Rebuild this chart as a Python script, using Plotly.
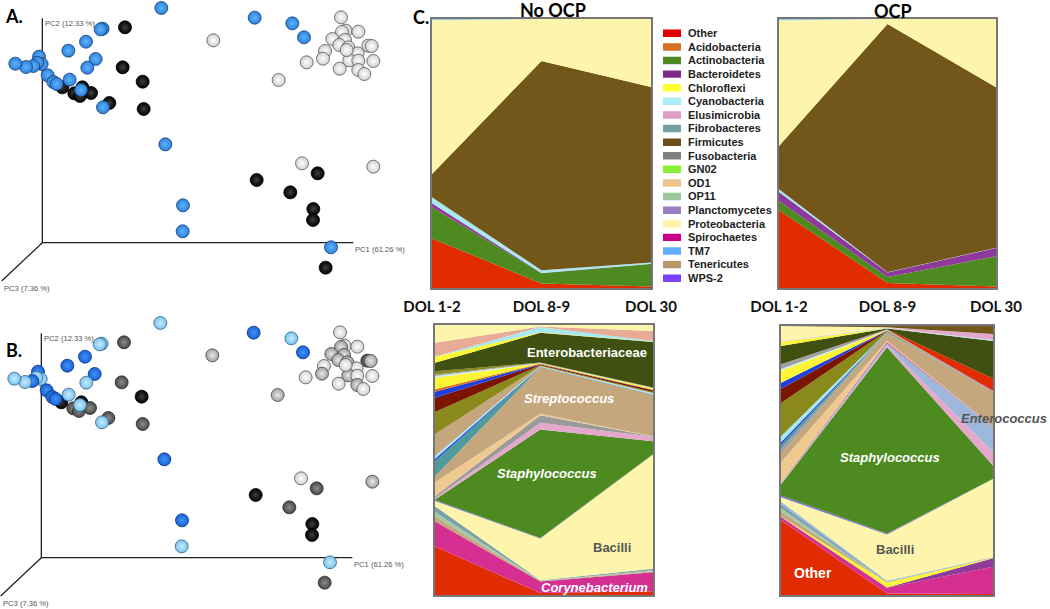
import plotly.graph_objects as go

W, H = 1050, 609

# ordination coordinates, shared with panel B
pc1 = [1023, 640, 1037, 1026, 1075, 997, 1035, 1018, 1045, 1105, 1115, 975, 969, 920, 1073,
       1120, 1048, 1075, 1019, 1075, 1093, 836, 906, 1120, 1040,
       375, 368, 428, 431, 247, 187, 223, 240, 273, 328, 770, 953, 871, 940, 939, 977,
       484, 764, 877, 912, 308, 302, 258, 205, 287, 262, 117, 125, 112, 100, 78, 46,
       143, 160, 170, 209, 243, 309, 496, 549, 548, 993]
pc2 = [52, 121, 92, 96, 95, 117, 120, 135, 142, 137, 138, 153, 176, 187, 160,
       183, 181, 182, 206, 210, 222, 240, 490, 500, 150,
       82, 202, 245, 327, 262, 262, 280, 288, 279, 309, 540, 520, 577, 627, 660, 803,
       24, 53, 70, 112, 86, 88, 125, 152, 177, 203, 170, 192, 188, 198, 201, 191,
       226, 246, 252, 239, 270, 322, 433, 616, 694, 742]
group_a = ["white"] * 25 + ["black"] * 16 + ["blue"] * 26
group_b = ["white", "lgrey", "white", "lgrey", "white", "lgrey", "lgrey", "lgrey", "lgrey", "grey",
           "lgrey", "white", "lgrey", "white", "white", "white", "lgrey", "white", "white", "lgrey",
           "white", "lgrey", "white", "lgrey", "white",
           "grey", "grey", "black", "grey", "black", "black", "grey", "grey", "grey", "grey",
           "black", "grey", "grey", "black", "black", "grey",
           "light", "blue", "light", "blue", "light", "light", "blue", "blue", "blue", "light",
           "blue", "light", "light", "blue", "light", "light", "blue", "blue", "blue", "light",
           "light", "light", "blue", "blue", "light", "light"]
axis_x = [127, 127, 1060]
axis_y = [55, 728, 728]
axis3_x = [127, 5]
axis3_y = [728, 843]

# outer colour, centre colour, rim colour
spheres = {
    "white": ("#d0d0d0", "#ffffff", "#555555"),
    "lgrey": ("#a0a0a0", "#e8e8e8", "#444444"),
    "grey": ("#484848", "#8c8c8c", "#2c2c2c"),
    "black": ("#000000", "#404040", "#000000"),
    "blue": ("#2f80d8", "#5cb4ff", "#173f78"),
    "light": ("#78c0f0", "#c8eefc", "#356585"),
}
spheres_b = dict(spheres, blue=("#1a60d8", "#3f94f6", "#0c3480"))

dol_labels = ["DOL 1-2", "DOL 8-9", "DOL 30"]
dol_x = [0, 1, 2]
dol_x_low_nocp = [0, 0.966, 2]

# phylum level, % per time point
top_taxa = ["Other", "Actinobacteria", "Bacteroidetes", "Cyanobacteria", "Firmicutes", "Proteobacteria", "TM7"]
top_colors = ["#e02c00", "#4d8a20", "#8e3a9c", "#a8e8f0", "#72561a", "#fdf5ac", "#a0d0e0"]
top_nocp_1 = [18.4, 11.6, 1.5, 2.2, 8.7, 57.1, 0.5]
top_nocp_8 = [1.7, 3.8, 0.1, 1.0, 77.8, 15.6, 0.0]
top_nocp_30 = [0.6, 8.3, 0.1, 0.5, 65.2, 25.3, 0.0]
top_ocp_1 = [28.9, 3.4, 3.4, 1.0, 16.1, 46.6, 0.6]
top_ocp_8 = [1.9, 2.2, 1.7, 0.1, 92.2, 1.9, 0.0]
top_ocp_30 = [0.6, 11.2, 3.1, 0.1, 59.6, 25.4, 0.0]

# genus level, No OCP
low_nocp_taxa = ["Other", "Corynebacterium", "Tenericutes", "OP11", "Fibrobacteres", "Bacilli", "WPS-2",
                 "Staphylococcus", "Elusimicrobia", "Fusobacteria", "OD1", "Streptococcus", "Teal", "Blue",
                 "Cyanobacteria", "Tan", "Olive", "Maroon", "TM7", "Acidobacteria", "Chloroflexi", "Pale cyan",
                 "Grey", "Olive 2", "Enterobacteriaceae", "Yellow", "Cyan", "Salmon", "Proteobacteria"]
low_nocp_colors = ["#e02c00", "#d52f92", "#c4a77d", "#a5c8a5", "#7aa0a8", "#fdf5ac", "#7c6fd6",
                   "#4d8a20", "#e5a8cc", "#9a9a9a", "#efca90", "#c4a77d", "#4f9a9c", "#2244e0",
                   "#a8e8f0", "#c4a77d", "#8a8a1c", "#7a1500", "#1f3fe0", "#d87020", "#fdf535", "#c8f0f0",
                   "#a0a0a0", "#8a8a1c", "#3f5010", "#fdf535", "#a8e8f0", "#e8ab95", "#fdf5ac"]
low_nocp_1 = [18.0, 9.3, 1.9, 1.5, 2.2, 1.9, 0.4, 0.2, 0.5, 0.7, 5.2, 2.2, 5.6, 0.9, 1.0, 8.0, 8.3,
              5.3, 2.2, 0.9, 4.3, 0.6, 0.6, 1.2, 3.1, 2.2, 0.1, 5.1, 6.6]
low_nocp_8 = [0.7, 4.3, 0.2, 0.1, 0.2, 15.6, 0.2, 40.4, 2.5, 2.8, 0.6, 17.3, 0.1, 0.1, 0.2, 0.1, 0.3,
              0.3, 0.1, 0.2, 0.1, 0.1, 0.1, 0.1, 11.1, 0.2, 2.0, 0.1, 0.6]
low_nocp_30 = [1.4, 7.0, 0.4, 0.4, 0.5, 42.4, 0.1, 4.9, 1.6, 0.1, 0.1, 15.3, 0.1, 0.1, 0.5, 0.1, 0.3,
               0.7, 0.1, 0.1, 0.5, 0.1, 0.1, 0.1, 16.9, 0.1, 0.3, 3.7, 2.2]

# genus level, OCP
low_ocp_taxa = ["Other", "Corynebacterium", "Bacteroidetes", "Chloroflexi", "Tenericutes", "OP11", "Fibrobacteres",
                "Planctomycetes", "Bacilli", "WPS-2", "Staphylococcus", "Elusimicrobia", "Enterococcus",
                "Spirochaetes", "OD1", "Streptococcus", "Grey", "Teal", "Blue", "Cyanobacteria", "Olive",
                "Maroon", "TM7", "Yellow", "Pale cyan", "Grey 2", "Lavender", "Red", "Enterobacteriaceae",
                "Yellow 2", "Cyan", "Salmon", "Proteobacteria", "Firmicutes"]
low_ocp_colors = ["#e02c00", "#d52f92", "#8e3a9c", "#fdf535", "#c4a77d", "#a5c8a5", "#7aa0a8",
                  "#9ab4dc", "#fdf5ac", "#7c6fd6", "#4d8a20", "#e5a8cc", "#9db8dc",
                  "#d52f92", "#efca90", "#c4a77d", "#a0a0a0", "#4f9a9c", "#2244e0", "#a8e8f0", "#8a8a1c",
                  "#7a1500", "#1f3fe0", "#fdf535", "#c8f0f0", "#a0a0a0", "#9a80d8", "#e02c00", "#3f5010",
                  "#fdf535", "#a8e8f0", "#e5a8cc", "#fdf5ac", "#72561a"]
low_ocp_1 = [27.9, 1.2, 0.1, 0.1, 1.9, 1.2, 1.5, 1.0, 1.6, 0.7, 4.1, 0.1, 0.3, 0.1, 7.8, 3.1, 1.9, 1.5,
             1.0, 2.2, 12.4, 5.4, 2.2, 4.5, 0.6, 1.8, 0.0, 0.0, 6.8, 1.5, 0.1, 0.2, 5.7, 0.0]
low_ocp_8 = [0.6, 2.1, 0.1, 1.9, 0.1, 0.1, 0.1, 0.3, 17.3, 0.4, 69.6, 0.6, 0.9, 0.4, 0.5, 2.9, 0.1, 0.1,
             0.1, 0.1, 0.3, 0.1, 0.1, 0.1, 0.1, 0.1, 0.1, 0.1, 0.3, 0.1, 0.1, 0.1, 0.1, 0.5]
low_ocp_30 = [0.4, 10.2, 3.1, 0.1, 0.1, 0.1, 0.1, 0.1, 29.1, 0.1, 5.0, 5.0, 9.3, 0.1, 0.1, 13.0, 0.0, 0.0,
              0.0, 0.0, 0.0, 0.0, 0.0, 0.0, 0.0, 0.0, 0.4, 4.6, 14.0, 0.0, 0.4, 2.2, 0.0, 3.0]

legend_taxa = ["Other", "Acidobacteria", "Actinobacteria", "Bacteroidetes", "Chloroflexi", "Cyanobacteria",
               "Elusimicrobia", "Fibrobacteres", "Firmicutes", "Fusobacteria", "GN02", "OD1", "OP11",
               "Planctomycetes", "Proteobacteria", "Spirochaetes", "TM7", "Tenericutes", "WPS-2"]
legend_colors = ["#e00000", "#d87020", "#4d8a20", "#7c2a8c", "#ffff33", "#a8eef4", "#e09cc8", "#75a0a0",
                 "#6e4e1a", "#808080", "#88f030", "#efc48c", "#9cc89c", "#9a80c0", "#fdf5a8", "#cc0088",
                 "#60b0ff", "#b89868", "#7a40ff"]


def dom_x(left, right):
    return [left / W, right / W]


def dom_y(top, bottom):
    return [1 - bottom / H, 1 - top / H]


def add_pcoa(fig, xa, ya, groups, styles):
    fig.add_trace(go.Scatter(
        x=axis_x, y=axis_y, mode="lines", line=dict(color="#222222", width=1.3),
        hoverinfo="skip", xaxis=xa, yaxis=ya))
    fig.add_trace(go.Scatter(
        x=axis3_x, y=axis3_y, mode="lines", line=dict(color="#222222", width=1.3),
        hoverinfo="skip", xaxis=xa, yaxis=ya))
    fig.add_trace(go.Scatter(
        x=pc1, y=pc2, mode="markers", xaxis=xa, yaxis=ya,
        marker=dict(
            size=13,
            color=[styles[g][0] for g in groups],
            gradient=dict(type="radial", color=[styles[g][1] for g in groups]),
            line=dict(width=0.8, color=[styles[g][2] for g in groups]),
        )))


def add_stack(fig, xa, ya, x, colors, taxa, v1, v8, v30):
    group = "stack_" + xa
    for name, color, a, b, c in zip(taxa, colors, v1, v8, v30):
        fig.add_trace(go.Scatter(
            x=x, y=[a, b, c], name=name, mode="none", stackgroup=group, groupnorm="percent",
            fillcolor=color, xaxis=xa, yaxis=ya))


def note(fig, px, py, text, size, color="#000000", bold=True, italic=False, family="Liberation Sans"):
    fig.add_annotation(
        x=px / W, y=1 - py / H, xref="paper", yref="paper", text=text, showarrow=False,
        xanchor="center", yanchor="middle",
        font=dict(size=size, color=color, family=family, weight=700 if bold else 400,
                  style="italic" if italic else "normal"))


fig = go.Figure()
add_pcoa(fig, "x", "y", group_a, spheres)
add_pcoa(fig, "x2", "y2", group_b, spheres_b)
add_stack(fig, "x3", "y3", dol_x, top_colors, top_taxa, top_nocp_1, top_nocp_8, top_nocp_30)
add_stack(fig, "x4", "y4", dol_x, top_colors, top_taxa, top_ocp_1, top_ocp_8, top_ocp_30)
add_stack(fig, "x5", "y5", dol_x_low_nocp, low_nocp_colors, low_nocp_taxa, low_nocp_1, low_nocp_8, low_nocp_30)
add_stack(fig, "x6", "y6", dol_x, low_ocp_colors, low_ocp_taxa, low_ocp_1, low_ocp_8, low_ocp_30)

fig.add_trace(go.Bar(
    x=[1] * len(legend_taxa), y=legend_taxa, orientation="h", width=0.55,
    marker=dict(color=legend_colors, line=dict(width=0)), xaxis="x7", yaxis="y7"))

hidden = dict(visible=False, fixedrange=True, automargin=False)
frame = dict(showline=True, mirror=True, linecolor="#777777", linewidth=1.5, showgrid=False,
             zeroline=False, ticks="", fixedrange=True, automargin=False)
dol_ticks = dict(tickvals=dol_x, ticktext=dol_labels, ticklabelstandoff=4,
                 tickfont=dict(size=15, color="#111111", family="Lato", weight=700))

fig.update_layout(
    width=W, height=H, autosize=False, margin=dict(l=0, r=0, t=0, b=0),
    paper_bgcolor="white", plot_bgcolor="white", showlegend=False,
    xaxis=dict(domain=dom_x(0, 420), range=[0, 1260], anchor="y", **hidden),
    yaxis=dict(domain=dom_y(0, 300), range=[900, 0], anchor="x", **hidden),
    xaxis2=dict(domain=dom_x(0, 420), range=[3, 1263], anchor="y2", **hidden),
    yaxis2=dict(domain=dom_y(300, 609), range=[882, -45], anchor="x2", **hidden),
    xaxis3=dict(domain=dom_x(432, 651), range=[0, 2], anchor="y3", **frame, **dol_ticks),
    yaxis3=dict(domain=dom_y(19, 288), range=[0, 100], anchor="x3", showticklabels=False, **frame),
    xaxis4=dict(domain=dom_x(779, 996), range=[0, 2], anchor="y4", **frame, **dol_ticks),
    yaxis4=dict(domain=dom_y(19, 288), range=[0, 100], anchor="x4", showticklabels=False, **frame),
    xaxis5=dict(domain=dom_x(435, 653), range=[0, 2], anchor="y5", showticklabels=False, **frame),
    yaxis5=dict(domain=dom_y(325, 595), range=[0, 100], anchor="x5", showticklabels=False, **frame),
    xaxis6=dict(domain=dom_x(781, 993), range=[0, 2], anchor="y6", showticklabels=False, **frame),
    yaxis6=dict(domain=dom_y(326, 595), range=[0, 100], anchor="x6", showticklabels=False, **frame),
    xaxis7=dict(domain=dom_x(663, 681), range=[0, 1], anchor="y7", **hidden),
    yaxis7=dict(domain=dom_y(26.5, 285), autorange="reversed", type="category", side="right", anchor="x7",
                showline=False, showgrid=False, zeroline=False, ticks="", ticklabelstandoff=6, fixedrange=True,
                automargin=False, tickfont=dict(size=11, color="#222222", family="Liberation Sans", weight=700)),
)

for xr, yr in [("x", "y"), ("x2", "y2")]:
    for px, py, label in [(128, 70, "PC2 (12.33 %)"), (1060, 748, "PC1 (61.26 %)"), (5, 865, "PC3 (7.36 %)")]:
        fig.add_annotation(
            x=px, y=py, xref=xr, yref=yr, text=label, showarrow=False, xanchor="left", yanchor="middle",
            font=dict(size=7.6, color="#555555", family="Liberation Sans"))

note(fig, 14, 16, "A.", 18, family="Lato")
note(fig, 14, 350, "B.", 18, family="Lato")
note(fig, 421, 17, "C.", 18, family="Lato")
note(fig, 553, 10, "No OCP", 18, family="Lato")
note(fig, 893, 10.5, "OCP", 18, family="Lato")

note(fig, 587, 352, "Enterobacteriaceae", 13, "#ffffff")
note(fig, 569, 398, "Streptococcus", 13, "#ffffff", italic=True)
note(fig, 547, 473, "Staphylococcus", 13, "#ffffff", italic=True)
note(fig, 612, 547, "Bacilli", 13, "#555555")
note(fig, 594, 587, "Corynebacterium", 13, "#ffffff", italic=True)
note(fig, 1004, 418, "Enterococcus", 13, "#555555", italic=True)
note(fig, 890, 457, "Staphylococcus", 13, "#ffffff", italic=True)
note(fig, 895, 549, "Bacilli", 13, "#555555")
note(fig, 813, 573, "Other", 14, "#ffffff")

fig.write_html("out.html", config=dict(displayModeBar=False),
               post_script="document.body.style.margin='0';")
